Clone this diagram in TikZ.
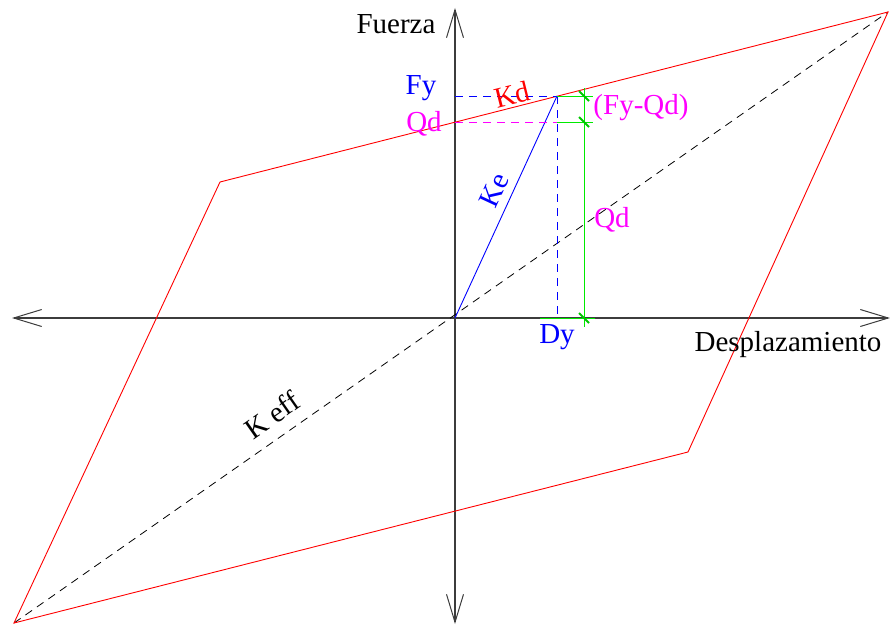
\documentclass[tikz,border=0pt]{standalone}
\usepackage{fontspec}
\setmainfont{Liberation Serif}
\usetikzlibrary{arrows.meta}
\definecolor{axisgray}{RGB}{60,60,60}
\definecolor{dimgreen}{RGB}{0,235,0}
\definecolor{tickgreen}{RGB}{0,200,0}
\definecolor{pmag}{RGB}{255,0,255}
\definecolor{pblue}{RGB}{0,0,255}
\definecolor{pred}{RGB}{255,0,0}
\tikzset{
  axisline/.style={draw=axisgray, line width=1.2pt, -{Straight Barb[length=28pt,width=17pt,line width=1pt]}},
  loopline/.style={draw=pred, line width=0.9pt},
  effline/.style={draw=black, line width=0.8pt, dash pattern=on 8pt off 6pt},
  bluedash/.style={draw=pblue, line width=0.9pt, dash pattern=on 8pt off 6pt},
  magdash/.style={draw=pmag, line width=0.9pt, dash pattern=on 8pt off 6pt},
  dimline/.style={draw=dimgreen, line width=1pt},
  dimtick/.style={draw=tickgreen, line width=2pt},
  lbl/.style={font=\fontsize{29}{32}\selectfont, inner sep=0pt},
}
\begin{document}
\begin{tikzpicture}[x=1pt, y=-1pt]
\useasboundingbox (0,0) rectangle (890,626);
% key points
\coordinate (O) at (455,318);
\coordinate (BL) at (14,623);
\coordinate (UL) at (220,182);
\coordinate (TR) at (888,12);
\coordinate (LR) at (688,452);
\coordinate (Y) at (557,96);
\coordinate (FyA) at (455,96);
\coordinate (QdA) at (455,122);
\coordinate (QdY) at (557,122);
\coordinate (DyA) at (557,318);
\coordinate (Xl) at (12,318);
\coordinate (Xr) at (890,318);
\coordinate (Yt) at (455,8);
\coordinate (Yb) at (455,624);
% axes
\draw[axisline] (O) -- (Xl);
\draw[axisline] (O) -- (Xr);
\draw[axisline] (O) -- (Yt);
\draw[axisline] (O) -- (Yb);
% effective stiffness
\draw[effline] (BL) -- (TR);
% hysteresis loop
\draw[loopline] (BL) -- (UL) -- (TR) -- (LR) -- cycle;
% elastic stiffness
\draw[draw=pblue, line width=0.9pt] (O) -- (Y);
\draw[bluedash] (FyA) -- (Y);
\draw[bluedash] (Y) -- (DyA);
\draw[magdash] (QdA) -- (QdY);
% dimension lines
\coordinate (d1a) at (557,96);  \coordinate (d1b) at (593,96);
\coordinate (d2a) at (557,122); \coordinate (d2b) at (593,122);
\coordinate (d3a) at (540,318); \coordinate (d3b) at (595,318);
\coordinate (dt) at (584,88);   \coordinate (db) at (584,327);
\draw[dimline] (d1a) -- (d1b);
\draw[dimline] (d2a) -- (d2b);
\draw[dimline] (d3a) -- (d3b);
\draw[dimline] (dt) -- (db);
\foreach \yy in {96,122,318}{
  \draw[dimtick] (579,\yy-5) -- (589,\yy+5);
}
% labels
\node[lbl] (fuerza) at (396,24) {Fuerza};
\node[lbl] (despl) at (788,345) {Desplazamiento};
\node[lbl, text=pblue] (fy) at (421,88) {Fy};
\node[lbl, text=pred, rotate=14] (kd) at (512,95) {Kd};
\node[lbl, text=pmag] (qd1) at (424,124) {Qd};
\node[lbl, text=pmag] (fyqd) at (641,108) {(Fy-Qd)};
\node[lbl, text=pblue, rotate=65] (ke) at (494,190) {Ke};
\node[lbl, text=pmag] (qd2) at (612,220) {Qd};
\node[lbl, text=pblue] (dy) at (557,337) {Dy};
\node[lbl, rotate=35] (keff) at (272,415) {K eff};
\end{tikzpicture}
\end{document}
